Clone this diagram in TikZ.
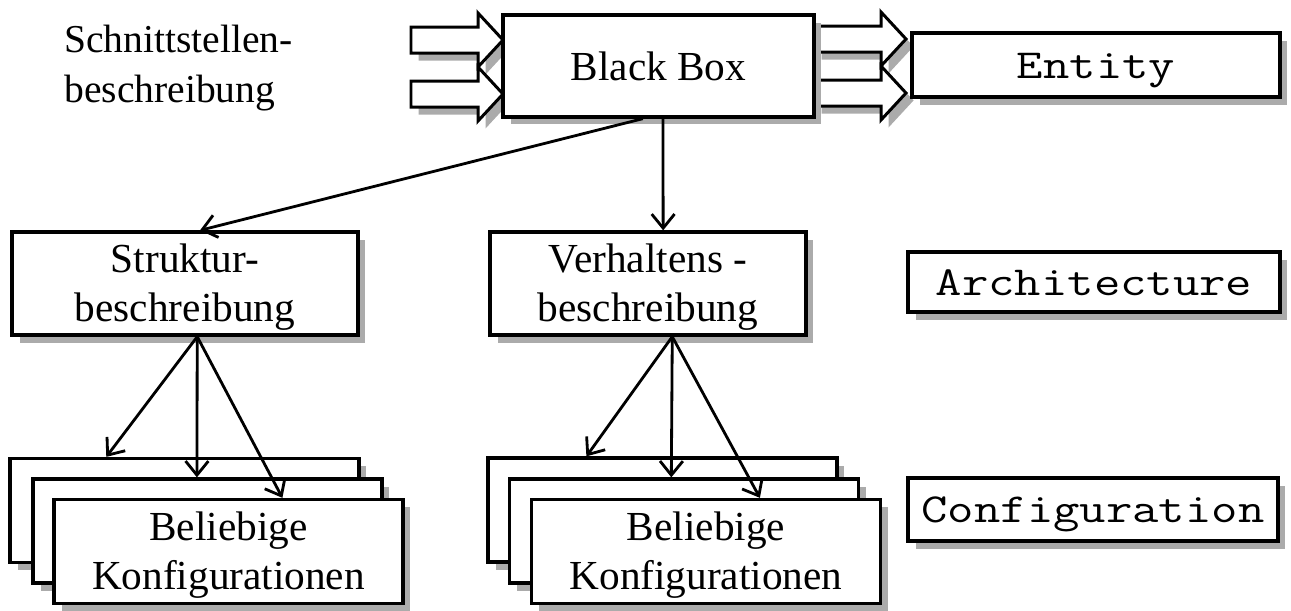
\documentclass[tikz,border=0pt]{standalone}
\usepackage{graphicx}
\usepackage{fontspec}
\setmainfont{Liberation Serif}
\usetikzlibrary{arrows.meta,shadows,calc}

% slightly widened typewriter text for the VHDL keywords
\newcommand\kw[1]{\scalebox{1.24}[1]{#1}}
% invisible strut that lowers two-line labels a little
\newcommand\lift{\rule{0pt}{0.72cm}}

\tikzset{
  shade/.style={drop shadow={fill=black!33, opacity=1, shadow xshift=0.15cm, shadow yshift=-0.15cm}},
  box/.style={draw, line width=1.9pt, fill=white, shade, inner sep=0pt, align=center,
    font=\fontsize{23.5}{27.9}\selectfont},
  codebox/.style={draw, line width=1.9pt, fill=white, shade, inner sep=0pt,
    text height=0.6cm, text depth=0.08cm,
    font=\ttfamily\fontsize{23.5}{26}\selectfont},
  stackbox/.style={box, minimum width=6.98cm, minimum height=2.08cm},
  link/.style={line width=1.6pt, -{Straight Barb[length=8pt,width=13pt,line width=1.6pt]}},
  barrow/.pic={
    \draw[line width=1.7pt, fill=white, shade, line join=miter]
      (0,-13) -- (67,-13) -- (67,-27) -- (92,0) -- (67,27) -- (67,13) -- (0,13) -- cycle;
  },
}

\begin{document}
\begin{tikzpicture}[x=0.02cm, y=-0.02cm]
\useasboundingbox (0,0) rectangle (1291,610);

% interface description: inputs and outputs of the black box
\node[anchor=west, align=left, inner sep=0pt, font=\fontsize{22.5}{28.45}\selectfont]
  (label) at (64,68) {Schnittstellen-\\beschreibung};
\pic at (411,40) {barrow};
\pic at (411,94) {barrow};
\pic at (814,39) {barrow};
\pic at (814,93) {barrow};

\node[box, minimum width=6.22cm, minimum height=2.04cm] (bb) at (658.5,66) {Black Box};
\node[codebox, minimum width=7.36cm, minimum height=1.28cm] (entity) at (1096,65) {\kw{Entity}};

% second level: architectures
\node[box, minimum width=6.92cm, minimum height=2.06cm] (struk) at (185,283.5) {\lift Struktur-\\beschreibung};
\node[box, minimum width=6.32cm, minimum height=2.06cm] (verh) at (648,283.5) {\lift Verhaltens -\\beschreibung};
\node[codebox, minimum width=7.44cm, minimum height=1.2cm] (arch) at (1094,282) {\kw{Architecture}};

% third level: stacks of configurations
\node[stackbox] (la) at (184.5,510.5) {};
\node[stackbox] (lb) at (207.5,531) {};
\node[stackbox] (lc) at (228.5,551.5) {\lift Beliebige\\Konfigurationen};
\node[stackbox] (ra) at (662.5,510) {};
\node[stackbox] (rb) at (684,531) {};
\node[stackbox] (rc) at (706,551.5) {\lift Beliebige\\Konfigurationen};
\node[codebox, minimum width=7.4cm, minimum height=1.26cm] (conf) at (1093,509.5) {\kw{Configuration}};

% connectors
\draw[link] ($(bb.south west)!0.45!(bb.south east)$) -- ($(struk.north west)!0.543!(struk.north east)$);
\draw[link] ($(bb.south west)!0.514!(bb.south east)$) -- ($(verh.north west)!0.5475!(verh.north east)$);

\coordinate (ls) at ($(struk.south west)!0.535!(struk.south east)$);
\draw[link] (ls) -- ($(la.north west)!0.278!(la.north east)$);
\draw[link] (ls) -- ($(lb.north west)!0.47!(lb.north east)$);
\draw[link] (ls) -- ($(lc.north west)!0.653!(lc.north east)$);

\coordinate (rs) at ($(verh.south west)!0.576!(verh.south east)$);
\draw[link] (rs) -- ($(ra.north west)!0.284!(ra.north east)$);
\draw[link] (rs) -- ($(rb.north west)!0.464!(rb.north east)$);
\draw[link] (rs) -- ($(rc.north west)!0.653!(rc.north east)$);
\end{tikzpicture}
\end{document}
